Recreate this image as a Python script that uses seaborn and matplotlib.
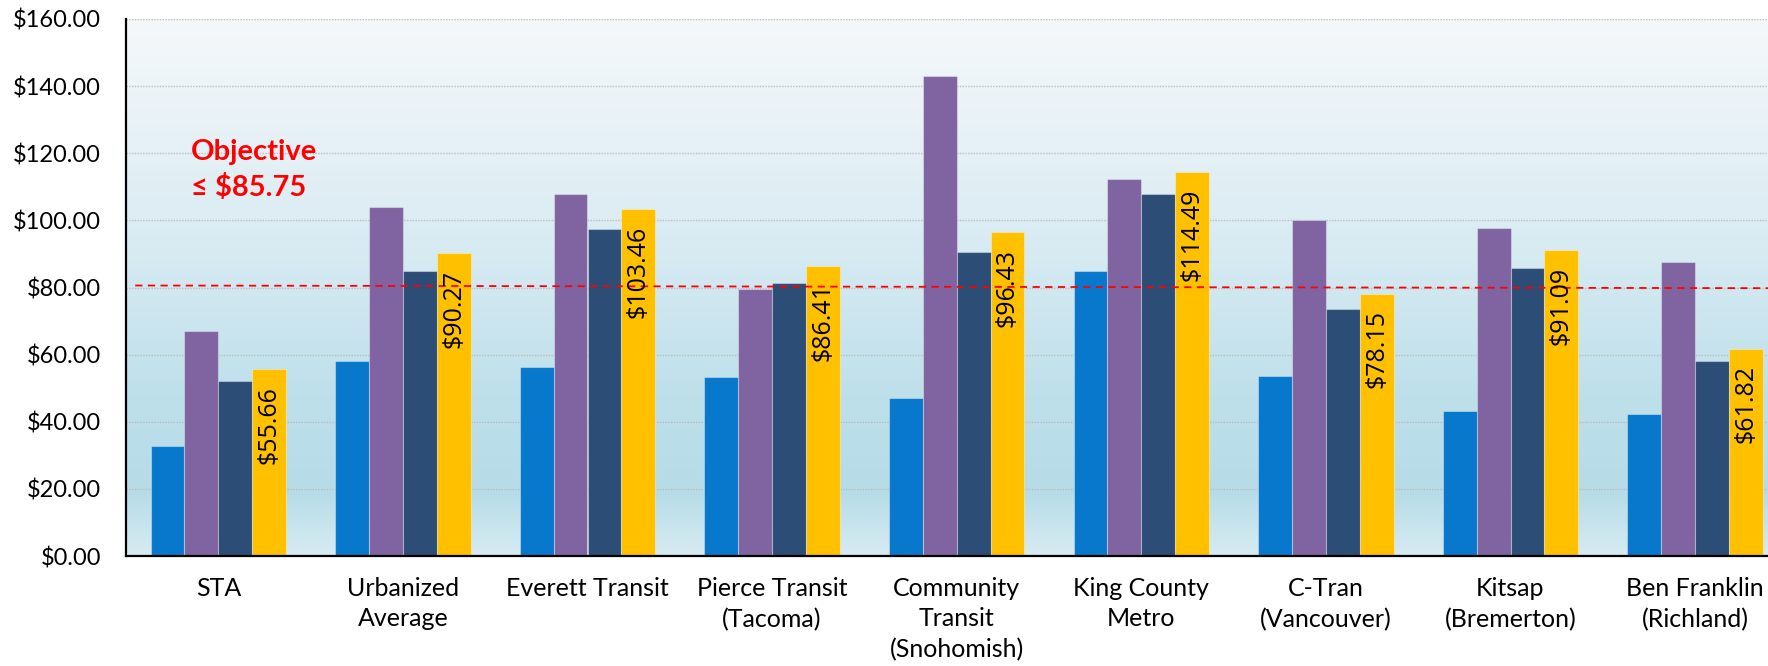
import numpy as np
import pandas as pd
import matplotlib
matplotlib.use("Agg")
import matplotlib.pyplot as plt
import seaborn as sns

# ---- data ----
agencies = ["STA", "Urbanized\nAverage", "Everett Transit", "Pierce Transit\n(Tacoma)",
            "Community\nTransit\n(Snohomish)", "King County\nMetro", "C-Tran\n(Vancouver)",
            "Kitsap\n(Bremerton)", "Ben Franklin\n(Richland)"]
series_names = ["Series 1", "Series 2", "Series 3", "Series 4"]
series1 = [32.9, 58.0, 56.2, 53.2, 47.2, 85.0, 53.7, 43.3, 42.2]
series2 = [67.0, 104.1, 108.0, 79.7, 143.1, 112.3, 100.1, 97.8, 87.7]
series3 = [52.1, 84.9, 97.3, 81.3, 90.7, 107.8, 73.5, 85.7, 58.1]
series4 = [55.66, 90.27, 103.46, 86.41, 96.43, 114.49, 78.15, 91.09, 61.82]
yticks = [0, 20, 40, 60, 80, 100, 120, 140, 160]
objective_text = "Objective\n≤ $85.75"
objective_line = [80.6, 79.8]

colors = ["#0778CB", "#8064A2", "#2C4D75", "#FFC000"]

rows = []
for name, vals in zip(series_names, [series1, series2, series3, series4]):
    for a, v in zip(agencies, vals):
        rows.append({"agency": a, "series": name, "cost": v})
df = pd.DataFrame(rows)

sns.set_theme(style="white")
plt.rcParams["font.family"] = ["Lato", "DejaVu Sans"]

fig = plt.figure(figsize=(17.68, 6.66), dpi=100)
ax = fig.add_axes([126 / 1768, 110 / 666, 1 - 126 / 1768, 537 / 666])

# gradient background
stops = np.array([0.0, 0.12, 0.3, 0.6, 1.0])
cols = np.array([[215, 235, 242], [182, 220, 232], [190, 224, 235], [218, 236, 243], [245, 248, 251]]) / 255.0
t = np.linspace(0, 1, 256)
grad = np.stack([np.interp(t, stops, cols[:, i]) for i in range(3)], axis=-1)[::-1]
grad = grad[:, None, :].repeat(2, axis=1)
ax.imshow(grad, extent=[0, 1, 0, 1], transform=ax.transAxes, aspect="auto", zorder=0)

sns.barplot(data=df, x="agency", y="cost", hue="series", palette=colors, width=0.733,
            saturation=1, legend=False, ax=ax, edgecolor=(1, 1, 1, 0.35), linewidth=0.8,
            zorder=2)

ax.set_xlim(-0.5, -0.5 + (1768 - 126) / 184.6)
ax.set_ylim(0, 160)
ax.set_yticks(yticks)
ax.set_yticklabels([f"${v:.2f}" for v in yticks])
ax.set_axisbelow(True)
ax.yaxis.grid(True, linestyle=(0, (1, 1)), color="#BDBDBD", linewidth=1.0, zorder=1)
ax.xaxis.grid(False)
ax.set_xlabel("")
ax.set_ylabel("")
ax.tick_params(axis="y", length=0, pad=18, labelsize=17, labelcolor="black")
ax.tick_params(axis="x", length=0, pad=15, labelsize=18, labelcolor="black")
for lbl in ax.get_xticklabels():
    lbl.set_linespacing(1.4)

for s in ["top", "right"]:
    ax.spines[s].set_visible(False)
ax.spines["left"].set_color("black")
ax.spines["left"].set_linewidth(1.6)
ax.spines["bottom"].set_color("black")
ax.spines["bottom"].set_linewidth(1.6)
ax.spines["left"].set_zorder(5)
ax.spines["bottom"].set_zorder(5)

# objective dashed line
x0, x1 = ax.get_xlim()
ax.plot([x0 + 0.05, x1], objective_line, color="#FF0000", linestyle=(0, (4, 3)),
        linewidth=1.3, zorder=3)

# objective text
ax.text((190.7 - 126) / 1642, (556 - 139) / 537, objective_text, transform=ax.transAxes,
        color="#FF0000", fontsize=21, fontweight="bold", ha="left", va="top",
        linespacing=1.4, family=["Lato", "DejaVu Sans"], zorder=6)

# value labels on last series
for p, v in zip(ax.containers[3], series4):
    xc = p.get_x() + p.get_width() / 2
    ax.annotate(f"${v:.2f}", xy=(xc, p.get_height()), xytext=(0, -12),
                textcoords="offset points", rotation=90, ha="center", va="top",
                fontsize=18, color="black", family=["Open Sans", "DejaVu Sans"], zorder=6)

fig.savefig("out.png", dpi=100)
